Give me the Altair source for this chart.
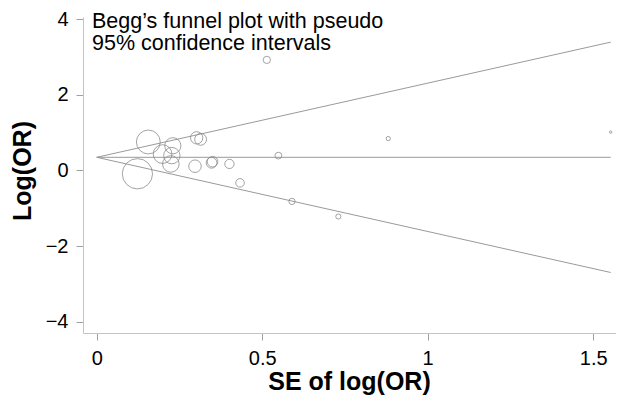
import altair as alt
import pandas as pd

# Study standard errors and log odds ratios
se = [0.156, 0.123, 0.199, 0.230, 0.227, 0.224, 0.302, 0.314, 0.297, 0.347,
      0.350, 0.401, 0.433, 0.549, 0.590, 0.730, 0.514, 0.881, 1.553]
log_or = [0.75, -0.09, 0.43, 0.65, 0.39, 0.17, 0.86, 0.82, 0.11, 0.20,
          0.23, 0.17, -0.33, 0.39, -0.82, -1.22, 2.92, 0.84, 1.01]

theta = 0.345   # pooled estimate
z = 1.96
x_ticks = [0, 0.5, 1, 1.5]
y_ticks = [-4, -2, 0, 2, 4]
title_text = "Begg\u2019s funnel plot with pseudo\n95% confidence intervals"

FONT = "Liberation Sans"
GREY = "#8c8c8c"

pts = pd.DataFrame({"se": se, "lor": log_or})
max_se = max(se)
lines = pd.DataFrame({"se": [0, max_se]})
lines["center"] = theta
lines["upper"] = theta + z * lines["se"]
lines["lower"] = theta - z * lines["se"]

xscale = alt.Scale(domain=[-0.0414, 1.569], nice=False, zero=False)
yscale = alt.Scale(domain=[-4.298, 4.053], nice=False, zero=False)

xaxis = alt.Axis(values=x_ticks, format="~g", title="SE of log(OR)",
                 titleX=266, titleY=48,
                 titleAlign="center", titleBaseline="middle",
                 tickSize=7, labelPadding=8)
yaxis = alt.Axis(values=y_ticks, format="~g", title="Log(OR)", titleX=-61,
                 titleY=153.5,
                 titleAngle=270, titleAlign="center", titleBaseline="middle",
                 tickSize=7, labelPadding=8)

base_lines = alt.Chart(lines)
line_layers = [
    base_lines.mark_line(color="#9a9a9a", strokeWidth=1).encode(
        x=alt.X("se:Q", scale=xscale, axis=xaxis),
        y=alt.Y(f"{col}:Q", scale=yscale, axis=yaxis),
    )
    for col in ["center", "upper", "lower"]
]

points = alt.Chart(pts).transform_calculate(
    w="1 / (datum.se * datum.se)"
).mark_point(shape="circle", filled=False, color=GREY, strokeWidth=0.8,
             opacity=1).encode(
    x=alt.X("se:Q", scale=xscale, axis=xaxis),
    y=alt.Y("lor:Q", scale=yscale, axis=yaxis),
    size=alt.Size("w:Q", scale=alt.Scale(domain=[0, 100], range=[0, 1385]),
                  legend=None),
)

label = alt.Chart(pd.DataFrame({"t": [title_text]})).mark_text(
    align="left", baseline="alphabetic", font=FONT, fontSize=21.5,
    lineBreak="\n", lineHeight=22, color="black"
).encode(x=alt.value(9), y=alt.value(11), text="t:N")

chart = alt.layer(*line_layers, points, label).properties(
    width=533, height=316,
    padding={"left": 75, "top": 9, "right": 0, "bottom": 63},
    autosize=alt.AutoSizeParams(type="none"),
).configure_axis(
    grid=False, labelFont=FONT, labelFontSize=20, labelColor="black",
    titleFont=FONT, titleFontSize=25, titleFontWeight="bold", titleColor="black",
    domainColor="#c4c4c4", tickColor="#a0a0a0", domainWidth=1, tickWidth=1,
).configure_view(stroke=None)

chart.save("out.html", embed_options={"renderer": "svg", "actions": False})
